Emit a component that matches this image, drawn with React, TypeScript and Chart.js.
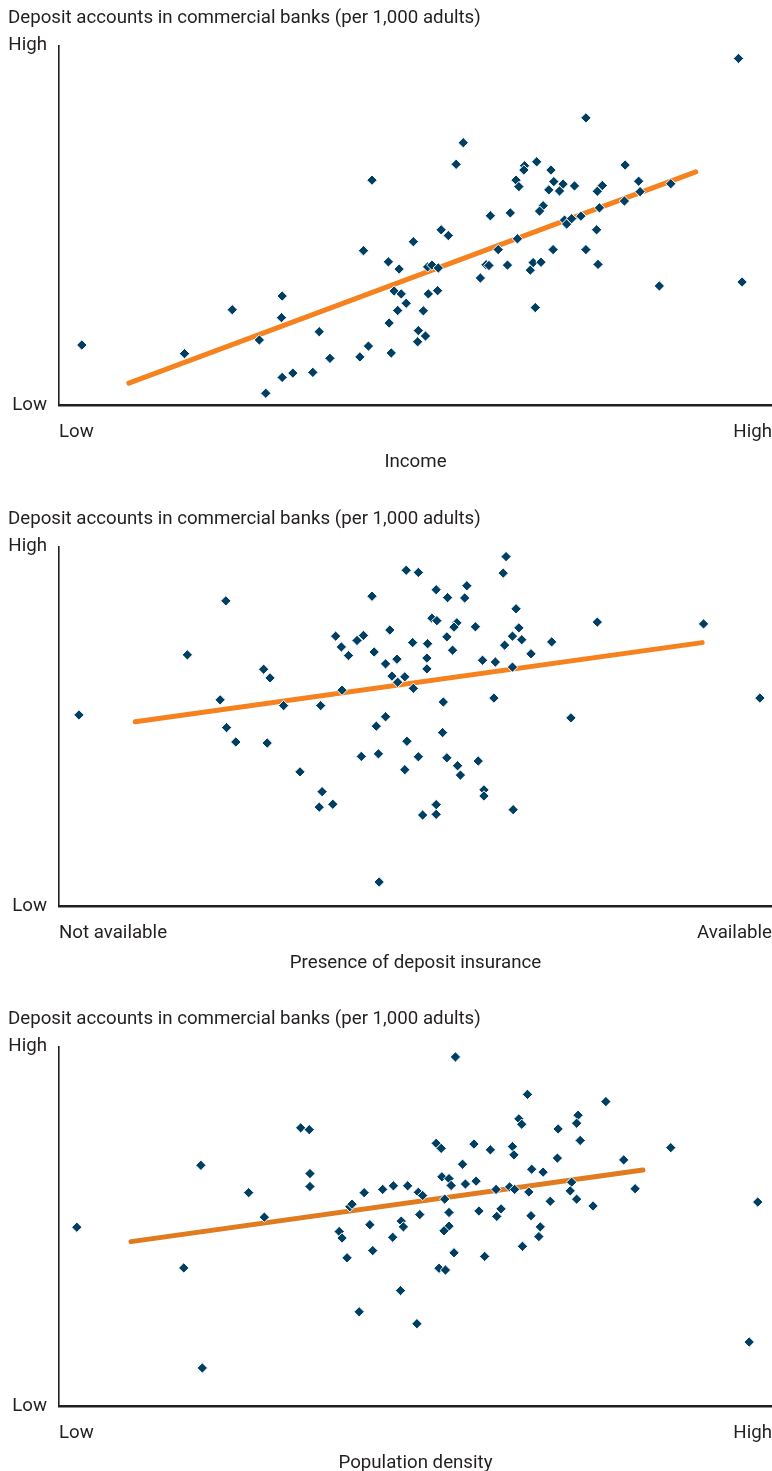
import React, { useEffect, useRef } from 'react';
import { Chart, registerables } from 'chart.js';

Chart.register(...registerables);

// ---------- data (relative units: 0 = Low, 100 = High) ----------
const yAxisTitle = 'Deposit accounts in commercial banks (per 1,000 adults)';
const yTickLabels = ['Low', 'High'];

const incomeTickLabels = ['Low', 'High'];
const insuranceTickLabels = ['Not available', 'Available'];
const densityTickLabels = ['Low', 'High'];

const incomeTitle = 'Income';
const insuranceTitle = 'Presence of deposit insurance';
const densityTitle = 'Population density';

const incomePoints: [number, number][] = [
  [3.2, 16.8], [17.6, 14.4], [24.3, 26.6], [31.3, 30.4], [31.2, 24.4], [28.1, 18.2], [29.0, 3.4],
  [31.3, 7.8], [32.8, 9.0], [35.6, 9.2], [36.5, 20.5], [38.0, 13.1], [42.2, 13.5], [43.4, 16.5],
  [42.7, 43.0], [43.9, 62.6], [46.2, 39.9], [47.7, 37.9], [49.7, 45.5], [47.0, 31.8], [48.0, 31.0],
  [48.7, 28.4], [47.5, 26.4], [46.3, 22.9], [46.6, 14.6], [50.4, 20.8], [50.3, 17.7], [53.6, 48.8],
  [54.6, 47.2], [56.7, 73.0], [55.7, 67.0], [51.7, 38.5], [52.3, 39.0], [53.2, 38.2], [51.8, 31.0],
  [53.1, 31.9], [51.1, 26.3], [51.4, 19.3], [59.1, 35.4], [60.5, 52.7], [63.3, 53.5], [61.6, 43.3],
  [59.9, 39.1], [60.3, 38.9], [62.9, 39.0], [64.3, 46.3], [64.1, 62.6], [64.5, 60.8], [65.3, 66.6],
  [65.2, 65.4], [67.0, 67.7], [69.0, 65.4], [69.4, 62.2], [70.7, 61.5], [68.7, 59.9], [70.2, 59.6],
  [72.3, 61.0], [67.9, 55.5], [67.4, 54.0], [66.1, 37.6], [66.5, 39.7], [67.6, 39.8], [66.8, 27.2],
  [69.3, 43.3], [73.9, 79.9], [70.9, 51.5], [71.2, 50.4], [71.9, 51.9], [73.2, 52.6], [73.9, 43.3],
  [75.4, 48.8], [75.6, 39.2], [75.8, 54.9], [75.5, 59.5], [76.2, 61.1], [79.4, 66.8], [79.3, 56.8],
  [81.3, 62.3], [81.5, 59.4], [85.8, 61.6], [84.2, 33.2], [95.3, 96.4], [95.8, 34.3],
];
const incomeTrend: [number, number][] = [[9.8, 6.2], [89.3, 64.9]];

const insurancePoints: [number, number][] = [
  [2.8, 53.2], [18.0, 69.9], [23.4, 84.9], [22.6, 57.4], [23.5, 49.7], [24.8, 45.7], [28.7, 65.9],
  [29.6, 63.5], [29.2, 45.4], [31.5, 55.8], [33.8, 37.4], [36.7, 55.8], [36.9, 31.9], [36.5, 27.6],
  [38.4, 28.4], [38.8, 75.1], [39.6, 72.1], [40.6, 69.7], [39.7, 60.1], [41.8, 73.9], [42.7, 75.3],
  [43.9, 86.2], [44.2, 70.7], [46.4, 76.8], [45.8, 67.4], [47.4, 68.7], [46.7, 64.0], [47.5, 62.3],
  [48.5, 63.8], [49.6, 73.3], [48.7, 93.4], [50.4, 92.8], [49.7, 60.6], [45.8, 52.7], [44.5, 50.1],
  [48.8, 45.9], [42.4, 41.7], [44.8, 42.4], [48.5, 38.0], [50.4, 41.6], [44.9, 6.8], [51.0, 25.4],
  [62.7, 97.2], [62.3, 92.6], [52.9, 88.0], [54.5, 85.8], [57.2, 89.1], [56.9, 85.7], [64.1, 82.7],
  [52.3, 80.1], [53.0, 79.4], [55.8, 78.8], [55.4, 77.6], [58.4, 77.7], [54.4, 74.9], [55.2, 71.2],
  [51.7, 73.0], [51.6, 69.0], [51.6, 66.0], [59.4, 68.4], [61.2, 67.9], [63.6, 66.5], [62.5, 72.6],
  [63.6, 75.1], [64.5, 77.4], [64.9, 74.1], [66.2, 70.2], [69.1, 73.5], [75.5, 79.0], [90.4, 78.5],
  [53.9, 56.8], [61.0, 57.9], [71.8, 52.4], [98.3, 57.9], [53.8, 48.3], [54.4, 41.3], [55.9, 39.1],
  [56.3, 36.5], [58.8, 40.4], [59.6, 32.4], [59.6, 30.7], [52.9, 28.3], [52.9, 25.6], [63.7, 26.9],
];
const insuranceTrend: [number, number][] = [[10.7, 51.3], [90.2, 73.3]];

const densityPoints: [number, number][] = [
  [2.5, 49.8], [19.9, 67.0], [17.5, 38.5], [20.1, 10.7], [26.6, 59.4], [28.8, 52.6], [33.9, 77.4],
  [35.1, 76.9], [35.2, 64.7], [35.2, 61.1], [39.3, 48.6], [39.7, 46.8], [40.4, 41.3], [40.8, 55.5],
  [41.1, 56.2], [42.8, 59.4], [43.6, 50.5], [44.0, 43.3], [45.4, 60.3], [46.9, 61.3], [48.9, 61.3],
  [50.4, 59.5], [48.0, 51.5], [48.3, 49.9], [46.8, 47.0], [50.6, 53.3], [42.1, 26.3], [47.9, 32.2],
  [50.2, 23.0], [55.6, 97.1], [65.7, 86.7], [76.7, 84.7], [64.5, 79.9], [64.9, 78.4], [72.8, 80.9],
  [72.6, 78.7], [73.1, 73.9], [70.0, 77.1], [52.9, 73.1], [53.6, 71.7], [58.2, 72.9], [60.5, 71.3],
  [63.6, 72.2], [63.8, 69.9], [69.9, 69.0], [85.8, 71.9], [79.2, 68.5], [56.6, 67.3], [66.3, 65.9],
  [67.9, 65.1], [53.7, 63.8], [54.7, 63.3], [55.0, 61.4], [57.0, 61.8], [58.5, 62.6], [61.3, 60.3],
  [63.2, 61.0], [63.9, 60.3], [65.9, 59.6], [71.9, 62.3], [71.7, 59.9], [80.8, 60.5], [51.0, 58.6],
  [54.1, 57.6], [72.6, 57.6], [68.9, 57.0], [74.9, 55.7], [54.7, 53.9], [58.9, 54.3], [62.0, 54.9],
  [61.4, 52.8], [66.2, 53.0], [54.7, 50.1], [54.0, 48.8], [67.5, 49.9], [67.3, 47.2], [55.4, 42.7],
  [59.7, 41.7], [65.0, 44.5], [53.3, 38.4], [54.2, 37.9], [98.0, 56.8], [96.8, 17.9],
];
const densityTrend: [number, number][] = [[10.1, 45.8], [81.9, 65.7]];

// ---------- styles ----------
const FONT = "Roboto, 'Liberation Sans', sans-serif";
const TEXT = '#231f20';
const AXIS = '#231f20';
const MARKER = '#003f62';

type PanelProps = {
  points: [number, number][];
  trend: [number, number][];
  xLabels: string[];
  xTitle: string;
  lineColor: string;
  height: number;
  bottomPad: number;
};

function Panel({ points, trend, xLabels, xTitle, lineColor, height, bottomPad }: PanelProps) {
  const ref = useRef<HTMLCanvasElement>(null);
  useEffect(() => {
    const font = { family: FONT, size: 18.7, weight: 'normal' as const, lineHeight: 1.2 };
    const chart = new Chart(ref.current as HTMLCanvasElement, {
      type: 'scatter',
      data: {
        datasets: [
          {
            type: 'scatter',
            data: points.map(([x, y]) => ({ x, y })),
            pointStyle: 'rectRot',
            pointRadius: 5.2,
            pointBackgroundColor: MARKER,
            pointBorderColor: '#ffffff',
            pointBorderWidth: 1,
            order: 1,
          },
          {
            type: 'line',
            data: trend.map(([x, y]) => ({ x, y })),
            borderColor: lineColor,
            borderWidth: 5,
            borderCapStyle: 'round',
            pointRadius: 0,
            fill: false,
            order: 2,
          },
        ],
      } as any,
      options: {
        responsive: false,
        animation: false,
        devicePixelRatio: 1,
        layout: { autoPadding: false, padding: { left: 8, right: 0, top: 0, bottom: bottomPad } },
        plugins: {
          legend: { display: false },
          tooltip: { enabled: false },
          title: {
            display: true,
            text: yAxisTitle,
            align: 'start',
            color: TEXT,
            font,
            padding: { top: 7.5, bottom: 15.56 },
          },
        },
        scales: {
          x: {
            type: 'linear',
            position: 'bottom',
            min: 0,
            max: 100,
            afterBuildTicks: (s: any) => {
              s.ticks = [{ value: 0 }, { value: 100 }];
            },
            afterFit: (s: any) => {
              s.height = 64.5;
              s.paddingLeft = 0;
              s.paddingRight = 0;
            },
            grid: { display: false, drawTicks: false },
            border: { display: true, color: AXIS, width: 2.5 },
            ticks: {
              callback: (v: any) => (v === 0 ? xLabels[0] : v === 100 ? xLabels[1] : ''),
              align: 'inner',
              maxRotation: 0,
              minRotation: 0,
              autoSkip: false,
              padding: 16,
              color: TEXT,
              font,
            },
            title: {
              display: true,
              text: xTitle,
              color: TEXT,
              font: { ...font, lineHeight: 0.82 },
              padding: { top: 0, bottom: 0 },
            },
          },
          y: {
            type: 'linear',
            min: 0,
            max: 100,
            afterBuildTicks: (s: any) => {
              s.ticks = [{ value: 0 }, { value: 100 }];
            },
            afterFit: (s: any) => {
              s.width = 51;
              s.paddingTop = 0;
              s.paddingBottom = 0;
            },
            grid: { display: false, drawTicks: false },
            border: { display: true, color: AXIS, width: 1.6 },
            ticks: {
              callback: (v: any) => (v === 0 ? yTickLabels[0] : v === 100 ? yTickLabels[1] : ''),
              padding: 12,
              color: TEXT,
              font,
            },
          },
        },
      } as any,
    });
    return () => chart.destroy();
  }, []);
  return (
    <div style={{ width: 772, height }}>
      <canvas ref={ref} width={772} height={height} style={{ display: 'block' }} />
    </div>
  );
}

export default function App() {
  return (
    <div
      style={{
        position: 'absolute',
        left: 0,
        top: 0,
        width: 772,
        height: 1471,
        overflow: 'hidden',
        background: '#ffffff',
      }}
    >
      <Panel points={incomePoints} trend={incomeTrend} xLabels={incomeTickLabels} xTitle={incomeTitle} lineColor="#f5821f" height={501} bottomPad={31} />
      <Panel points={insurancePoints} trend={insuranceTrend} xLabels={insuranceTickLabels} xTitle={insuranceTitle} lineColor="#f5821f" height={500} bottomPad={30} />
      <Panel points={densityPoints} trend={densityTrend} xLabels={densityTickLabels} xTitle={densityTitle} lineColor="#e07b1f" height={470} bottomPad={0} />
    </div>
  );
}
